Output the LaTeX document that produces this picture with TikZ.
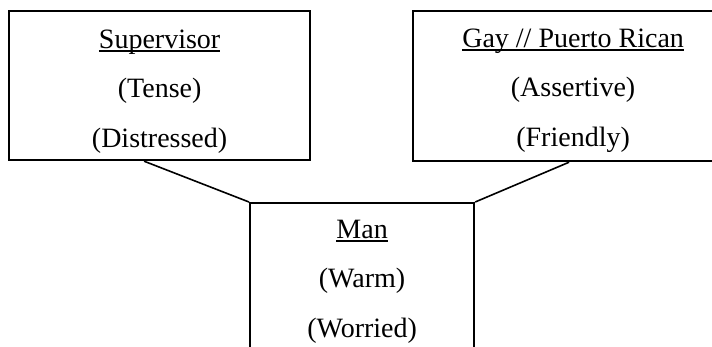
\documentclass[tikz,border=0pt]{standalone}
\usepackage{fontspec}
\setmainfont{Liberation Serif}
\usetikzlibrary{positioning}

\newcommand{\rolehead}[1]{\setbox0\hbox{#1}\rlap{\rule[-3.6pt]{\wd0}{1.4pt}}\box0}

\begin{document}
\begin{tikzpicture}[x=1pt,y=-1pt,
                    role box/.style={draw,line width=2.2pt,inner sep=0pt,anchor=north west},
                    role text/.style={align=center,inner sep=0pt,anchor=base,
                                      font=\fontsize{28}{49.5}\selectfont},
                    link/.style={line width=1.6pt}]
  \useasboundingbox (0,0) rectangle (712,346);

  \node[role box,minimum width=301pt,minimum height=149pt] (sup) at (8,10) {};
  \node[role box,minimum width=320pt,minimum height=150pt] (gay) at (412,10) {};
  \node[role box,minimum width=224pt,minimum height=200pt] (man) at (249,202) {};

  % base of a multi-line node is the last line
  \node[role text] (suptext) at ([yshift=-137pt]sup.north)
    {\rolehead{Supervisor}\\(Tense)\\(Distressed)};
  \node[role text] (gaytext) at ([yshift=-136pt]gay.north)
    {\rolehead{Gay // Puerto Rican}\\(Assertive)\\(Friendly)};
  \node[role text] (mantext) at ([yshift=-135pt]man.north)
    {\rolehead{Man}\\(Warm)\\(Worried)};

  \draw[link] ([xshift=-15.5pt]sup.south) -- (man.north west);
  \draw[link] ([xshift=-4pt]gay.south) -- (man.north east);
\end{tikzpicture}
\end{document}
